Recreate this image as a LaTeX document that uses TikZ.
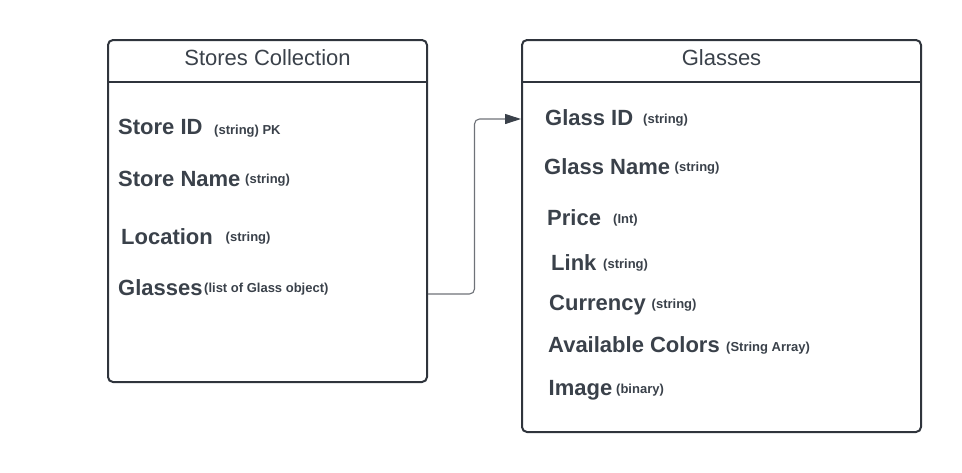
\documentclass[tikz,border=0pt]{standalone}
\usepackage{fontspec}
\setmainfont{Liberation Sans}
\usetikzlibrary{arrows.meta}
\definecolor{ink}{HTML}{3A414A}
\definecolor{edge}{HTML}{2F343C}
\definecolor{wire}{HTML}{6E7278}
\tikzset{
  box/.style={draw=edge, line width=2pt, rounded corners=5pt},
  sep/.style={draw=edge, line width=2pt},
  title/.style={text=ink, font=\fontsize{22}{24}\selectfont, inner sep=0pt, anchor=base},
  field/.style={text=ink, font=\fontsize{22}{24}\selectfont\bfseries, inner sep=0pt, anchor=base west},
  ftype/.style={text=ink, font=\fontsize{13}{14}\selectfont\bfseries, inner sep=0pt, anchor=base west},
  link/.style={draw=wire, line width=1.1pt, rounded corners=5pt, -{Triangle[length=16pt,width=10pt,fill=ink,color=ink]}}
}
\begin{document}
\begin{tikzpicture}[x=1pt,y=-1pt]
\useasboundingbox (0,0) rectangle (962,472);
% Stores box
\draw[box] (108,40) rectangle (427,382);
\draw[sep] (108,81.5) -- (427,81.5);
\node[title] (st) at (267.5,65) {Stores Collection};
% Glasses box
\draw[box] (522,40) rectangle (921,432);
\draw[sep] (522,81.5) -- (921,81.5);
\node[title] (gt) at (721.5,65) {Glasses};
% Stores fields
\node[field] (sid) at (118,134) {Store ID};
\node[ftype] (sidt) at (214,134) {(string) PK};
\node[field] (sname) at (118,186.5) {Store Name};
\node[ftype] (snamet) at (245,183) {(string)};
\node[field] (sloc) at (121,244) {Location};
\node[ftype] (sloct) at (225.5,241) {(string)};
\node[field] (sgl) at (118,295) {Glasses};
\node[ftype] (sglt) at (204,292) {(list of Glass object)};
% Glasses fields
\node[field] (gid) at (545,125) {Glass ID};
\node[ftype] (gidt) at (643,123) {(string)};
\node[field] (gname) at (544,174.5) {Glass Name};
\node[ftype] (gnamet) at (674.5,171) {(string)};
\node[field] (gpr) at (547,225) {Price};
\node[ftype] (gprt) at (613,223.5) {(Int)};
\node[field] (glk) at (551,270.5) {Link};
\node[ftype] (glkt) at (603,268.5) {(string)};
\node[field] (gcur) at (549,310) {Currency};
\node[ftype] (gcurt) at (651.5,308.5) {(string)};
\node[field] (gcol) at (548,352.5) {Available Colors};
\node[ftype] (gcolt) at (726,351) {(String Array)};
\node[field] (gimg) at (548.5,395) {Image};
\node[ftype] (gimgt) at (616,393.5) {(binary)};
% connector
\coordinate (from) at (428,294);
\coordinate (to) at (521,119);
\draw[link] (from) -- (474.5,294) -- (474.5,119) -- (to);
\end{tikzpicture}
\end{document}
